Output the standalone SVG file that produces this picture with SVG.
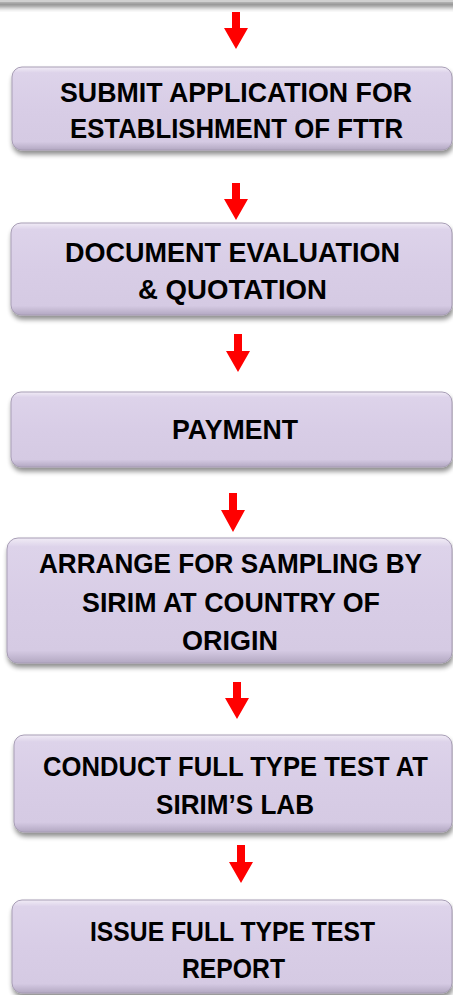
<svg xmlns="http://www.w3.org/2000/svg" width="453" height="995" viewBox="0 0 453 995">
<defs>
<linearGradient id="boxFill" x1="0" y1="0" x2="0" y2="1">
<stop offset="0" stop-color="#f1ecf6"/>
<stop offset="0.07" stop-color="#ddd3ea"/>
<stop offset="0.5" stop-color="#d8cde6"/>
<stop offset="0.9" stop-color="#d5cae3"/>
<stop offset="1" stop-color="#b3a8c2"/>
</linearGradient>
<filter id="shadow" x="-5%" y="-10%" width="110%" height="130%">
<feGaussianBlur in="SourceAlpha" stdDeviation="2.5"/>
<feOffset dx="1" dy="4" result="b"/>
<feComponentTransfer><feFuncA type="linear" slope="0.45"/></feComponentTransfer>
<feMerge><feMergeNode/><feMergeNode in="SourceGraphic"/></feMerge>
</filter>
</defs>
<style>
.box{fill:url(#boxFill);stroke:#a79db5;stroke-width:1;filter:url(#shadow)}
.lbl{font-family:"Liberation Sans",Arial,sans-serif;font-weight:bold;font-size:28px;fill:#000;text-anchor:middle}
.arr{fill:#ff0000}
</style>
<rect x="0" y="0" width="453" height="995" fill="#ffffff"/>
<g id="prev-box"><rect x="-20" y="-40" width="493" height="43" fill="#d0d0d0" stroke="#9a9a9a" stroke-width="1.2" filter="url(#shadow)"/></g>
<g id="connectors">
<polygon class="arr" points="232,12 240,12 240,28 248,28 236,49 224,28 232,28"/>
<polygon class="arr" points="232,183 240,183 240,199 248,199 236,220 224,199 232,199"/>
<polygon class="arr" points="234,334 242,334 242,351 250,351 238,372 226,351 234,351"/>
<polygon class="arr" points="229,493 237,493 237,510 245,510 233,532 221,510 229,510"/>
<polygon class="arr" points="233,682 241,682 241,698 249,698 237,719 225,698 233,698"/>
<polygon class="arr" points="237,845 245,845 245,862 253,862 241,883 229,862 237,862"/>
</g>
<g id="node-submit">
<rect class="box" x="12" y="67" width="440" height="83" rx="10"/>
<text class="lbl" x="236" y="102" textLength="352" lengthAdjust="spacingAndGlyphs">SUBMIT APPLICATION FOR</text>
<text class="lbl" x="236.5" y="138" textLength="333" lengthAdjust="spacingAndGlyphs">ESTABLISHMENT OF FTTR</text>
</g>
<g id="node-evaluation">
<rect class="box" x="11" y="223" width="441" height="92" rx="10"/>
<text class="lbl" x="232.5" y="262" textLength="335" lengthAdjust="spacingAndGlyphs">DOCUMENT EVALUATION</text>
<text class="lbl" x="232.5" y="299" textLength="189" lengthAdjust="spacingAndGlyphs">&amp; QUOTATION</text>
</g>
<g id="node-payment">
<rect class="box" x="11" y="392" width="441" height="75" rx="10"/>
<text class="lbl" x="235" y="439" textLength="126" lengthAdjust="spacingAndGlyphs">PAYMENT</text>
</g>
<g id="node-sampling">
<rect class="box" x="7" y="538" width="445" height="125" rx="11"/>
<text class="lbl" x="230.5" y="573" textLength="383" lengthAdjust="spacingAndGlyphs">ARRANGE FOR SAMPLING BY</text>
<text class="lbl" x="231" y="612" textLength="298" lengthAdjust="spacingAndGlyphs">SIRIM AT COUNTRY OF</text>
<text class="lbl" x="230" y="650" textLength="96" lengthAdjust="spacingAndGlyphs">ORIGIN</text>
</g>
<g id="node-test">
<rect class="box" x="14" y="735" width="438" height="97" rx="10"/>
<text class="lbl" x="235.5" y="776" textLength="385" lengthAdjust="spacingAndGlyphs">CONDUCT FULL TYPE TEST AT</text>
<text class="lbl" x="235" y="814" textLength="158" lengthAdjust="spacingAndGlyphs">SIRIM’S LAB</text>
</g>
<g id="node-report">
<rect class="box" x="12" y="900" width="440" height="93" rx="10"/>
<text class="lbl" x="232.5" y="941" textLength="285" lengthAdjust="spacingAndGlyphs">ISSUE FULL TYPE TEST</text>
<text class="lbl" x="233.5" y="978" textLength="103" lengthAdjust="spacingAndGlyphs">REPORT</text>
</g>
</svg>
